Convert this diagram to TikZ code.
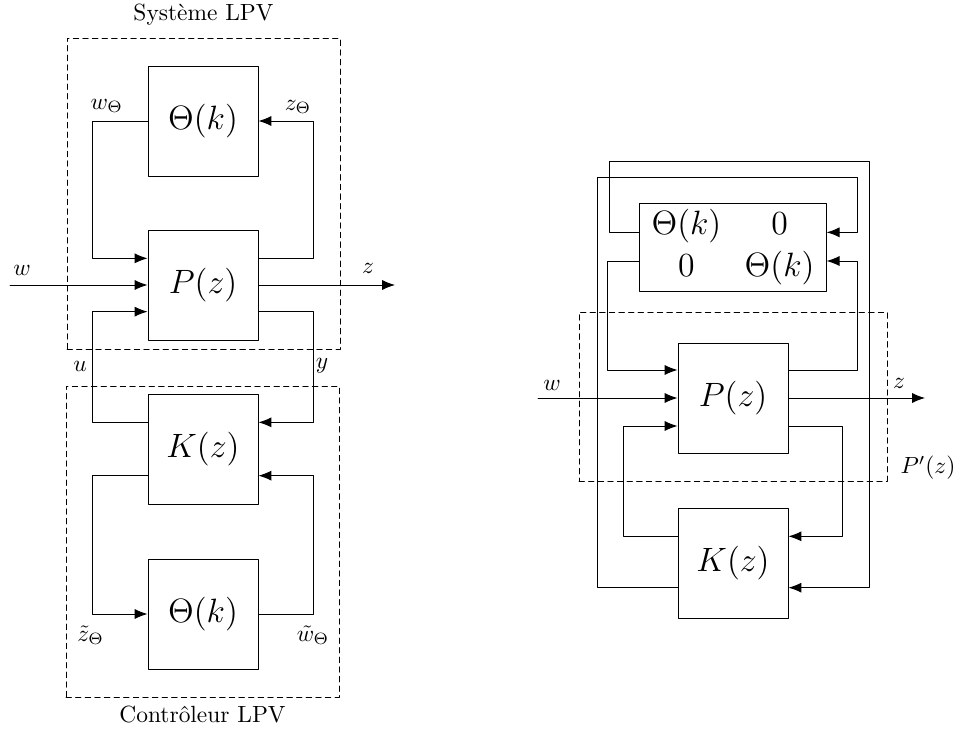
\documentclass[tikz,border=0pt]{standalone}
\usepackage{fontspec}
\usetikzlibrary{arrows.meta,positioning}
\begin{document}
\begin{tikzpicture}[line cap=round,line join=round,
  blk/.style={draw,minimum size=1.65cm,inner sep=0pt,font=\Large},
  frm/.style={draw,dash pattern=on 2.3pt off 1.8pt,minimum width=4.095cm,minimum height=4.665cm},
  sig/.style={-{Latex[length=5.5pt,width=4.3pt]}}]
  \useasboundingbox (0,0) rectangle (14.355,10.995);
  % schéma de gauche
  \node[frm] (sysLPV) at (3.0525,8.0925) {};
  \node[above=1.5pt of sysLPV] (sysLbl) {Système LPV};
  \node[frm] (ctrLPV) at (3.0375,2.8725) {};
  \node[below=0pt of ctrLPV] (ctrLbl) {Contrôleur LPV};
  \node[blk] (ThA) at (3.045,9.18) {$\Theta(k)$};
  \node[blk] (P) at (3.045,6.72) {$P(z)$};
  \node[blk] (K) at (3.045,4.26) {$K(z)$};
  \node[blk] (ThB) at (3.045,1.785) {$\Theta(k)$};
  \coordinate (win) at (0.15,6.72);
  \coordinate (zout) at (5.925,6.72);
  \draw[sig] (win) -- (P.west);
  \draw[sig] (P.east) -- (zout);
  \draw[sig] (ThA.west) -- ++(-0.825,0) |- ([yshift=0.4cm]P.west);
  \draw[sig] ([yshift=0.4cm]P.east) -- ++(0.825,0) |- (ThA.east);
  \draw[sig] ([yshift=0.4cm]K.west) -- ++(-0.825,0) |- ([yshift=-0.4cm]P.west);
  \draw[sig] ([yshift=-0.4cm]P.east) -- ++(0.825,0) |- ([yshift=0.4cm]K.east);
  \draw[sig] ([yshift=-0.4cm]K.west) -- ++(-0.825,0) |- (ThB.west);
  \draw[sig] (ThB.east) -- ++(0.825,0) |- ([yshift=-0.4cm]K.east);
  \node (wLbl) at (0.33,6.945) {$w$};
  \node (zLbl) at (5.52,6.975) {$z$};
  \node (wThLbl) at (1.6,9.405) {$w_\Theta$};
  \node (zThLbl) at (4.47,9.39) {$z_\Theta$};
  \node (uLbl) at (1.2,5.505) {$u$};
  \node (yLbl) at (4.83,5.505) {$y$};
  \node (ztLbl) at (1.36,1.47) {$\tilde{z}_\Theta$};
  \node (wtLbl) at (4.695,1.47) {$\tilde{w}_\Theta$};
  % schéma de droite
  \node[frm,minimum width=4.62cm,minimum height=2.535cm] (Pprime) at (10.995,5.0475) {};
  \node[draw,minimum width=2.775cm,minimum height=1.32cm,inner sep=0pt,font=\Large] (M) at (10.995,7.29)
    {$\begin{array}{cc}\Theta(k) & 0\\ 0 & \Theta(k)\end{array}$};
  \node[blk] (P2) at (10.995,5.025) {$P(z)$};
  \node[blk] (K2) at (10.995,2.55) {$K(z)$};
  \coordinate (win2) at (8.07,5.025);
  \coordinate (zout2) at (13.875,5.025);
  \coordinate (aTL) at (9.135,8.58);
  \coordinate (aTR) at (13.035,8.58);
  \coordinate (bTL) at (8.955,8.34);
  \coordinate (bTR) at (12.855,8.34);
  \draw[sig] (win2) -- (P2.west);
  \draw[sig] (P2.east) -- (zout2);
  \draw[sig] ([yshift=0.22cm]M.west) -| (aTL) -- (aTR) |- ([yshift=-0.37cm]K2.east);
  \draw[sig] ([yshift=-0.37cm]K2.west) -| (bTL) -- (bTR) |- ([yshift=0.22cm]M.east);
  \draw[sig] ([yshift=-0.21cm]M.west) -- ++(-0.4725,0) |- ([yshift=0.42cm]P2.west);
  \draw[sig] ([yshift=0.42cm]P2.east) -- ++(1.035,0) |- ([yshift=-0.21cm]M.east);
  \draw[sig] ([yshift=0.4cm]K2.west) -- ++(-0.815,0) |- ([yshift=-0.42cm]P2.west);
  \draw[sig] ([yshift=-0.42cm]P2.east) -- ++(0.815,0) |- ([yshift=0.4cm]K2.east);
  \node (wLbl2) at (8.28,5.22) {$w$};
  \node (zLbl2) at (13.485,5.25) {$z$};
  \node (PpLbl) at (13.92,3.975) {$P'(z)$};
\end{tikzpicture}
\end{document}
